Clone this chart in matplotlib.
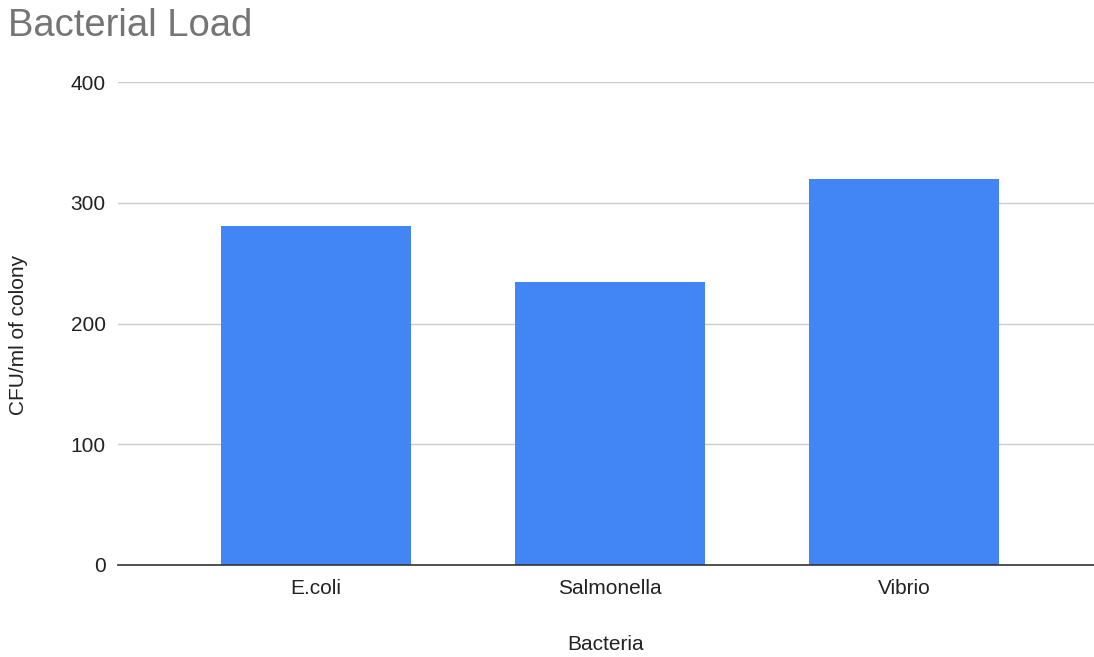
import matplotlib.pyplot as plt

# Data
bacteria = ['E.coli', 'Salmonella', 'Vibrio']
cfu = [281, 234, 320]
yticks = [0, 100, 200, 300, 400]

plt.rcParams['font.family'] = ['Liberation Sans', 'DejaVu Sans']

fig = plt.figure(figsize=(10.94, 6.57), dpi=100)
ax = fig.add_axes([118 / 1094, 1 - 565 / 657, 1 - 118 / 1094, (565 - 82) / 657])

x = range(len(bacteria))
ax.bar(x, cfu, width=0.646, color='#4285F4', zorder=3)

ax.set_xlim(-0.673, 2.646)
ax.set_ylim(0, 400)
ax.set_yticks(yticks)
ax.set_xticks(list(x))
ax.set_xticklabels(bacteria)

# Grid and spines
ax.grid(axis='y', color='#cccccc', linewidth=1, zorder=0)
for s in ['top', 'right', 'left']:
    ax.spines[s].set_visible(False)
ax.spines['bottom'].set_color('#333333')
ax.spines['bottom'].set_linewidth(1.2)
ax.spines['bottom'].set_zorder(4)
ax.tick_params(axis='both', length=0, labelsize=15, colors='#222222')
ax.tick_params(axis='y', pad=9)
ax.tick_params(axis='x', pad=10)

# axis labels placed in figure pixels
ax.set_xlabel('Bacteria', fontsize=15, color='#222222', va='center')
ax.xaxis.set_label_coords(606 / 1094, 1 - 645 / 657, transform=fig.transFigure)
ax.set_ylabel('CFU/ml of colony', fontsize=15, color='#222222', va='center')
ax.yaxis.set_label_coords(19 / 1094, 1 - 335 / 657, transform=fig.transFigure)

fig.text(8 / 1094, 1 - 26 / 657, 'Bacterial Load', fontsize=27.5, color='#757575',
         ha='left', va='center')

fig.savefig('out.png', dpi=100)
